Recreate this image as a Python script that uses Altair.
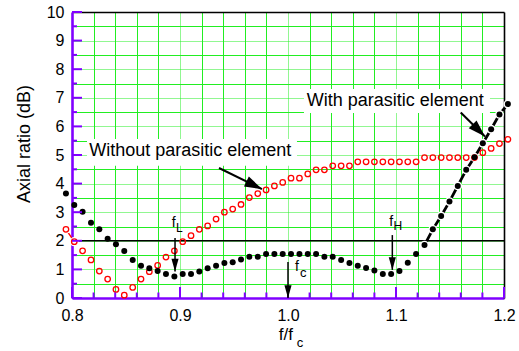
import altair as alt
import pandas as pd

# ---------------- data ----------------
freq = [0.7944, 0.8021, 0.8098, 0.8176, 0.8253, 0.8330, 0.8407, 0.8484, 0.8562, 0.8639,
        0.8716, 0.8793, 0.8870, 0.8948, 0.9025, 0.9102, 0.9179, 0.9256, 0.9334, 0.9411,
        0.9488, 0.9565, 0.9642, 0.9720, 0.9797, 0.9874, 0.9951, 1.0028, 1.0106, 1.0183,
        1.0260, 1.0337, 1.0414, 1.0492, 1.0569, 1.0646, 1.0723, 1.0800, 1.0878, 1.0955,
        1.1032, 1.1109, 1.1186, 1.1264, 1.1341, 1.1418, 1.1495, 1.1572, 1.1650, 1.1727,
        1.1804, 1.1881, 1.1958, 1.2036]

ar_with = [3.65, 3.25, 3.02, 2.63, 2.40, 2.07, 1.88, 1.64, 1.33, 1.13,
           1.04, 0.94, 0.84, 0.75, 0.84, 0.84, 0.93, 1.04, 1.13, 1.22,
           1.25, 1.35, 1.44, 1.44, 1.54, 1.54, 1.54, 1.54, 1.54, 1.54,
           1.54, 1.44, 1.44, 1.33, 1.22, 1.13, 1.05, 0.96, 0.84, 0.84,
           0.94, 1.23, 1.54, 1.85, 2.40, 2.87, 3.37, 3.92, 4.48, 4.92,
           5.41, 5.90, 6.42, 6.78]

ar_without = [2.40, 1.97, 1.65, 1.33, 0.94, 0.66, 0.30, 0.10, 0.37, 0.66,
              0.92, 1.14, 1.43, 1.65, 1.97, 2.18, 2.40, 2.52, 2.76, 3.00,
              3.11, 3.27, 3.51, 3.65, 3.78, 3.92, 4.04, 4.19, 4.19, 4.34,
              4.48, 4.48, 4.62, 4.62, 4.62, 4.76, 4.76, 4.76, 4.76, 4.76,
              4.76, 4.76, 4.76, 4.91, 4.91, 4.91, 4.91, 4.91, 4.91, 4.91,
              5.08, 5.23, 5.40, 5.55]

x_major = [0.8, 0.9, 1.0, 1.1, 1.2]
x_minor = [0.82, 0.84, 0.86, 0.88, 0.92, 0.94, 0.96, 0.98,
           1.02, 1.04, 1.06, 1.08, 1.12, 1.14, 1.16, 1.18]
y_major = [0, 1, 2, 3, 4, 5, 6, 7, 8, 9, 10]
y_minor = [0.5, 1.5, 2.5, 3.5, 4.5, 5.5, 6.5, 7.5, 8.5, 9.5]
threshold = 2.0

# annotations
label_text = ["Without parasitic element", "With parasitic element",
              "f", "L", "f", "H", "f", "c", "f/f", "c"]
label_x = [0.8160, 1.0173, 0.8923, 0.8962, 1.0938, 1.0977, 1.0065, 1.0111, 0.9915, 1.0080]
label_y = [4.965, 6.713, 2.472, 2.318, 2.528, 2.378, 0.944, 0.724, -1.469, -1.713]
label_size = [18, 18, 14, 12, 14, 12, 14, 13, 17, 13]

box_x0 = [0.8139, 1.0148]
box_x1 = [1.0083, 1.1870]
box_y0 = [4.62, 6.47]
box_y1 = [5.56, 7.31]

# diagonal pointer arrows
darrow_x = [0.9361, 1.1599]
darrow_y = [4.545, 6.486]
darrow_x2 = [0.9759, 1.1824]
darrow_y2 = [3.81, 5.647]
darrow_angle = [296, 314.6]
# vertical marker arrows (f_L, f_H, f_c)
varrow_x = [0.8954, 1.0966, 1.0]
varrow_y = [2.10, 2.20, 1.26]
varrow_y2 = [0.93, 0.98, 0.0]

# ---------------- tables ----------------
pts = pd.DataFrame({"f": freq, "with": ar_with, "without": ar_without,
                    "idx": list(range(len(freq)))})
labels = pd.DataFrame({"t": label_text, "x": label_x, "y": label_y, "s": label_size})
boxes = pd.DataFrame({"x0": box_x0, "x1": box_x1, "y0": box_y0, "y1": box_y1})
darrows = pd.DataFrame({"x": darrow_x, "y": darrow_y, "x2": darrow_x2, "y2": darrow_y2,
                        "a": darrow_angle})
varrows = pd.DataFrame({"x": varrow_x, "y": varrow_y, "y2": varrow_y2})
thr = pd.DataFrame({"y": [threshold], "x0": [x_major[0]], "x1": [x_major[-1]]})
ytitle = pd.DataFrame({"t": ["Axial ratio (dB)"], "x": [0.7565], "y": [5.385]})

PURPLE = "#8000ff"
GREEN = "#22ee22"
FONT = "Liberation Sans"

xs = alt.Scale(domain=[0.8, 1.2], nice=False, zero=False)
ys = alt.Scale(domain=[0, 10], nice=False, zero=False)


def X(f):
    return alt.X(f, type="quantitative", scale=xs, axis=None)


def Y(f):
    return alt.Y(f, type="quantitative", scale=ys, axis=None)


x_grid = sorted(x_major + x_minor)
y_grid = sorted(y_major + y_minor)

x_axis = alt.Axis(
    orient="bottom", values=x_grid, title=None, ticks=False, tickSize=0,
    domainColor=PURPLE, domainWidth=2.6,
    labelExpr="abs(datum.value*10 - round(datum.value*10)) < 0.001 ? format(datum.value, '.1f') : ''",
    labelFont=FONT, labelFontSize=16, labelColor="black", labelPadding=9,
    labelFlush=False, labelOverlap=False,
    grid=True, gridColor=GREEN, gridWidth=1,
    gridDash={"condition": {"test": "abs(datum.value*10 - round(datum.value*10)) < 0.001",
                            "value": [1, 1]}, "value": []},
    gridOpacity={"condition": {"test": "datum.value < 0.801 || datum.value > 1.199",
                               "value": 0}, "value": 1},
)
y_axis = alt.Axis(
    orient="left", values=y_grid, title=None, ticks=False, tickSize=0,
    domainColor=PURPLE, domainWidth=2.6,
    labelExpr="abs(datum.value - round(datum.value)) < 0.001 ? format(datum.value, 'd') : ''",
    labelFont=FONT, labelFontSize=16, labelColor="black", labelPadding=8,
    labelFlush=False, labelOverlap=False,
    grid=True, gridColor=GREEN, gridWidth=1,
    gridDash={"condition": {"test": "abs(datum.value - round(datum.value)) < 0.001",
                            "value": [1, 1]}, "value": []},
    gridOpacity={"condition": {"test": "datum.value < 0.01 || datum.value > 9.99",
                               "value": 0}, "value": 1},
)

axes_layer = alt.Chart(pts).mark_circle(opacity=0).encode(
    x=alt.X("f:Q", scale=xs, axis=x_axis), y=alt.Y("with:Q", scale=ys, axis=y_axis))

frame = alt.Chart(pts).mark_point(opacity=0).encode(
    x=alt.X("f:Q", scale=xs, axis=alt.Axis(orient="top", title=None, ticks=False,
                                           labels=False, grid=False,
                                           domainColor="black", domainWidth=1.6)),
    y=alt.Y("with:Q", scale=ys, axis=alt.Axis(orient="right", title=None, ticks=False,
                                              labels=False, grid=False,
                                              domainColor="black", domainWidth=1.6)),
)

box_layer = alt.Chart(boxes).mark_rect(color="white").encode(
    x=X("x0"), x2="x1", y=Y("y0"), y2="y1")

thr_layer = alt.Chart(thr).mark_rule(color="black", strokeWidth=1.6).encode(
    x=X("x0"), x2="x1", y=Y("y"))

line_with = alt.Chart(pts).transform_filter("datum.idx >= 43").mark_line(
    color="black", strokeWidth=2.8).encode(x=X("f"), y=Y("with"))
line_without = alt.Chart(pts).transform_filter("datum.idx <= 1").mark_line(
    color="red", strokeWidth=1.4).encode(x=X("f"), y=Y("without"))

halo_with = alt.Chart(pts).transform_filter("datum.idx >= 43").mark_circle(
    color="white", size=78, opacity=1).encode(x=X("f"), y=Y("with"))
halo_without = alt.Chart(pts).transform_filter("datum.idx <= 1").mark_circle(
    color="white", size=85, opacity=1).encode(x=X("f"), y=Y("without"))

red_pts = alt.Chart(pts).mark_point(shape="circle", filled=False, color="red",
                                    size=30, strokeWidth=1.3, opacity=1).encode(
    x=X("f"), y=Y("without"))
black_pts = alt.Chart(pts).mark_circle(color="black", size=36, opacity=1).encode(
    x=X("f"), y=Y("with"))

ytm = alt.Chart(pd.DataFrame({"v": y_major})).mark_rule(color=PURPLE, strokeWidth=2).encode(
    y=Y("v"), x=alt.value(0), x2=alt.value(10))
ytn = alt.Chart(pd.DataFrame({"v": y_minor})).mark_rule(color=PURPLE, strokeWidth=2).encode(
    y=Y("v"), x=alt.value(0), x2=alt.value(5))
xtm = alt.Chart(pd.DataFrame({"v": x_major})).mark_rule(color=PURPLE, strokeWidth=2).encode(
    x=X("v"), y=alt.value(286), y2=alt.value(275))
xtn = alt.Chart(pd.DataFrame({"v": x_minor})).mark_rule(color=PURPLE, strokeWidth=2).encode(
    x=X("v"), y=alt.value(286), y2=alt.value(280.5))

darrow_lines = alt.Chart(darrows).mark_rule(color="black", strokeWidth=2).encode(
    x=X("x"), y=Y("y"), x2="x2", y2="y2")
darrow_heads = alt.Chart(darrows).mark_point(
    shape="M0,0L-0.32,-1L0.32,-1Z", filled=True, color="black", opacity=1,
    strokeWidth=0, size=1200).encode(
    x=X("x2"), y=Y("y2"), angle=alt.Angle("a:Q", scale=None))

varrow_lines = alt.Chart(varrows).mark_rule(color="black", strokeWidth=1.5).encode(
    x=X("x"), y=Y("y"), y2="y2")
varrow_heads = alt.Chart(varrows).mark_point(
    shape="M0,0L-0.28,-1L0.28,-1Z", filled=True, color="black", opacity=1,
    strokeWidth=0, size=650).encode(x=X("x"), y=Y("y2"))

text_layer = alt.Chart(labels).mark_text(align="left", baseline="alphabetic",
                                          font=FONT, color="black").encode(
    x=X("x"), y=Y("y"), text="t:N", size=alt.Size("s:Q", scale=None))

ytitle_layer = alt.Chart(ytitle).mark_text(align="center", baseline="middle", angle=270,
                                            font=FONT, fontSize=18, color="black").encode(
    x=X("x"), y=Y("y"), text="t:N")

chart = alt.layer(
    axes_layer, frame, box_layer, thr_layer,
    line_with, line_without, halo_with, halo_without,
    red_pts, black_pts,
    ytm, ytn, xtm, xtn, darrow_lines, darrow_heads, varrow_lines, varrow_heads,
    text_layer, ytitle_layer,
).resolve_axis(x="independent", y="independent").properties(
    width=432, height=286,
    autosize=alt.AutoSizeParams(type="none"),
    padding={"left": 72, "top": 12, "right": 15, "bottom": 53},
    background="white",
).configure_view(stroke=None)

chart.save("out.html", embed_options={"renderer": "svg", "actions": False})
